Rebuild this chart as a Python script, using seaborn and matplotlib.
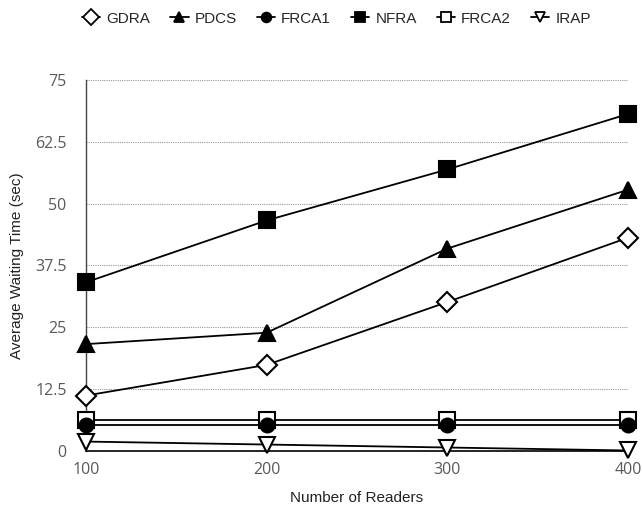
import matplotlib
matplotlib.use("Agg")
import matplotlib.pyplot as plt
import seaborn as sns
import pandas as pd
from matplotlib.ticker import FuncFormatter
from matplotlib.lines import Line2D

readers = [100, 200, 300, 400]
gdra = [11.2, 17.4, 30.1, 43.1]
pdcs = [21.6, 23.9, 40.9, 52.8]
frca1 = [5.2, 5.2, 5.2, 5.2]
nfra = [34.1, 46.6, 56.9, 68.1]
frca2 = [6.2, 6.2, 6.2, 6.2]
irap = [1.9, 1.3, 0.7, 0.1]
yticks = [0, 12.5, 25, 37.5, 50, 62.5, 75]

series = ["GDRA", "PDCS", "FRCA1", "NFRA", "FRCA2", "IRAP"]
values = [gdra, pdcs, frca1, nfra, frca2, irap]
styles = {
    "GDRA": dict(marker="D", mfc="white", ms=10.5, lms=8, z=3),
    "PDCS": dict(marker="^", mfc="black", ms=12, lms=7.5, z=3),
    "FRCA1": dict(marker="o", mfc="black", ms=10, lms=7, z=5),
    "NFRA": dict(marker="s", mfc="black", ms=11, lms=6.5, z=3),
    "FRCA2": dict(marker="s", mfc="white", ms=12, lms=6.5, z=4),
    "IRAP": dict(marker="v", mfc="white", ms=12, lms=7.5, z=3),
}

sns.set_style("white")
plt.rcParams["font.family"] = ["Liberation Sans", "DejaVu Sans"]

fig = plt.figure(figsize=(6.42, 5.09), dpi=100)
ax = fig.add_axes([0.134, 0.114, 0.844, 0.729])

for name, vals in zip(series, values):
    df = pd.DataFrame({"Readers": readers, "Wait": vals})
    st = styles[name]
    sns.lineplot(data=df, x="Readers", y="Wait", ax=ax, color="black",
                 linewidth=1.3, marker=st["marker"], markersize=st["ms"],
                 markerfacecolor=st["mfc"], markeredgecolor="black",
                 markeredgewidth=1.5, clip_on=False, zorder=st["z"])

ax.set_xlim(100, 400)
ax.set_ylim(0, 75)
ax.set_xticks(readers)
ax.set_yticks(yticks)
ax.yaxis.set_major_formatter(FuncFormatter(lambda v, p: f"{v:g}"))
ax.grid(axis="y", linestyle=(0, (1, 1)), color="#999999", linewidth=0.8)
ax.grid(axis="x", visible=False)
for s in ["top", "right"]:
    ax.spines[s].set_visible(False)
ax.spines["left"].set_color("#444444")
ax.spines["left"].set_linewidth(1.0)
ax.spines["bottom"].set_color("black")
ax.spines["bottom"].set_linewidth(1.2)
ax.tick_params(axis="both", length=0, labelsize=11.5, labelcolor="#5a5a5a")
ax.tick_params(axis="y", pad=14)
ax.tick_params(axis="x", pad=8)
for lab in ax.get_xticklabels() + ax.get_yticklabels():
    lab.set_family(["Open Sans", "DejaVu Sans"])
ax.set_xlabel("Number of Readers", fontsize=11, color="#222222", labelpad=9)
ax.set_ylabel("Average Waiting Time (sec)", fontsize=11, color="#222222", labelpad=8)

handles = []
for name in series:
    st = styles[name]
    handles.append(Line2D([0], [0], color="black", linewidth=1.3, marker=st["marker"],
                          markersize=st["lms"], markerfacecolor=st["mfc"],
                          markeredgecolor="black", markeredgewidth=1.3))
fig.legend(handles, series, loc="center", bbox_to_anchor=(0.524, 0.963), ncol=6,
           frameon=False, fontsize=11, handlelength=1.2, handletextpad=0.4,
           columnspacing=1.3)

fig.savefig("out.png", dpi=100)
